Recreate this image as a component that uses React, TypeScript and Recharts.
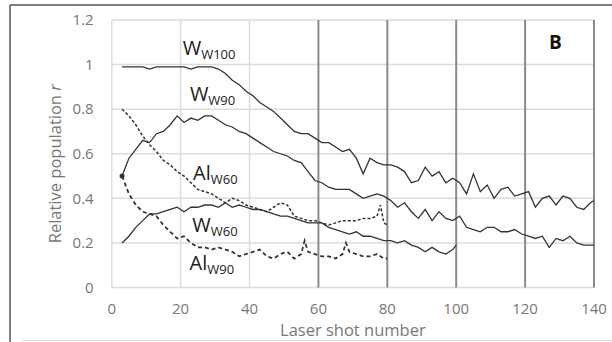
import { CartesianGrid, Line, LineChart, ReferenceDot, ReferenceLine, XAxis, YAxis } from "recharts";

// laser shot numbers (x) and relative population r (y)
const shotsLong = [3, 5, 7, 9, 11, 13, 15, 17, 19, 21, 23, 25, 27, 29, 31, 33, 35, 37, 39, 41, 43, 45, 47, 49, 51, 53, 55, 57, 59, 61, 63, 65, 67, 69, 71, 73, 75, 77, 79, 81, 83, 85, 87, 89, 91, 93, 95, 97, 99, 101, 103, 105, 107, 109, 111, 113, 115, 117, 119, 121, 123, 125, 127, 129, 131, 133, 135, 137, 139, 140];
const wW100 = [0.99, 0.99, 0.99, 0.99, 0.98, 0.99, 0.99, 0.99, 0.99, 0.99, 0.98, 0.99, 0.99, 0.99, 0.98, 0.96, 0.93, 0.91, 0.88, 0.86, 0.83, 0.81, 0.79, 0.76, 0.73, 0.7, 0.69, 0.69, 0.67, 0.65, 0.65, 0.63, 0.61, 0.62, 0.58, 0.51, 0.58, 0.56, 0.55, 0.55, 0.54, 0.52, 0.47, 0.48, 0.54, 0.5, 0.52, 0.47, 0.49, 0.47, 0.42, 0.51, 0.43, 0.46, 0.4, 0.44, 0.45, 0.41, 0.42, 0.43, 0.36, 0.4, 0.41, 0.37, 0.41, 0.4, 0.36, 0.35, 0.38, 0.39];
const wW90 = [0.5, 0.58, 0.62, 0.66, 0.65, 0.69, 0.7, 0.73, 0.77, 0.74, 0.76, 0.75, 0.77, 0.77, 0.75, 0.73, 0.72, 0.7, 0.69, 0.67, 0.65, 0.63, 0.61, 0.6, 0.59, 0.57, 0.56, 0.52, 0.48, 0.47, 0.45, 0.44, 0.44, 0.44, 0.42, 0.4, 0.41, 0.42, 0.41, 0.39, 0.36, 0.38, 0.34, 0.31, 0.35, 0.3, 0.34, 0.31, 0.3, 0.32, 0.27, 0.26, 0.25, 0.27, 0.27, 0.25, 0.25, 0.26, 0.24, 0.23, 0.22, 0.23, 0.18, 0.22, 0.21, 0.23, 0.2, 0.19, 0.19, 0.19];

const shotsW60 = [3, 5, 7, 9, 11, 13, 15, 17, 19, 21, 23, 25, 27, 29, 31, 33, 35, 37, 39, 41, 43, 45, 47, 49, 51, 53, 55, 57, 59, 61, 63, 65, 67, 69, 71, 73, 75, 77, 79, 81, 83, 85, 87, 89, 91, 93, 95, 97, 99, 100];
const wW60 = [0.2, 0.23, 0.27, 0.3, 0.33, 0.33, 0.34, 0.35, 0.36, 0.34, 0.36, 0.36, 0.37, 0.37, 0.36, 0.38, 0.36, 0.37, 0.36, 0.35, 0.35, 0.34, 0.33, 0.32, 0.32, 0.31, 0.3, 0.29, 0.29, 0.29, 0.27, 0.26, 0.25, 0.24, 0.25, 0.23, 0.23, 0.22, 0.21, 0.21, 0.2, 0.21, 0.19, 0.18, 0.16, 0.18, 0.16, 0.15, 0.17, 0.19];

const shotsAlW60 = [3, 5, 7, 9, 11, 13, 15, 17, 19, 21, 23, 25, 27, 29, 31, 33, 35, 37, 39, 41, 43, 45, 47, 49, 51, 53, 55, 57, 59, 61, 63, 65, 67, 69, 71, 73, 75, 77, 78, 79, 80];
const alW60 = [0.8, 0.77, 0.73, 0.68, 0.64, 0.61, 0.57, 0.55, 0.52, 0.5, 0.47, 0.44, 0.43, 0.42, 0.4, 0.38, 0.4, 0.39, 0.37, 0.36, 0.35, 0.34, 0.36, 0.38, 0.37, 0.32, 0.31, 0.3, 0.3, 0.29, 0.28, 0.29, 0.3, 0.3, 0.3, 0.31, 0.31, 0.32, 0.37, 0.29, 0.28];

const shotsAlW90 = [3, 5, 7, 9, 11, 13, 15, 17, 19, 21, 23, 25, 27, 29, 31, 33, 35, 37, 39, 41, 43, 45, 47, 49, 51, 53, 55, 56, 57, 59, 61, 63, 65, 67, 68, 69, 71, 73, 75, 77, 79, 80];
const alW90 = [0.5, 0.42, 0.37, 0.34, 0.33, 0.32, 0.28, 0.25, 0.22, 0.23, 0.2, 0.18, 0.18, 0.17, 0.18, 0.17, 0.16, 0.14, 0.15, 0.16, 0.17, 0.14, 0.13, 0.15, 0.16, 0.13, 0.15, 0.21, 0.16, 0.15, 0.14, 0.14, 0.13, 0.15, 0.2, 0.16, 0.15, 0.14, 0.14, 0.15, 0.13, 0.13];

const xTicks = [0, 20, 40, 60, 80, 100, 120, 140];
const yTicks = [0, 0.2, 0.4, 0.6, 0.8, 1, 1.2];
const darkGridX = [60, 80, 100, 120, 140];

// curve labels: main symbol, subscript, anchor in data units
const curveLabels = [
  { main: "W", sub: "W100", x: 20.6, y: 1.045 },
  { main: "W", sub: "W90", x: 22.7, y: 0.835 },
  { main: "Al", sub: "W60", x: 23.6, y: 0.483 },
  { main: "W", sub: "W60", x: 23.4, y: 0.25 },
  { main: "Al", sub: "W90", x: 22.6, y: 0.079 },
];

const toRows = (xs: number[], ys: number[]) => xs.map((x, i) => ({ x, y: ys[i] }));

const FONT = "'Open Sans', sans-serif";
const INK = "#333";

const YTitle = ({ viewBox }: any) => {
  const cx = 54;
  const cy = viewBox.y + viewBox.height / 2 + 10;
  return (
    <text x={cx} y={cy} transform={`rotate(-90 ${cx} ${cy})`} textAnchor="middle" dominantBaseline="central" fill="#777" fontSize={16.5} fontFamily={FONT}>
      Relative population <tspan fontStyle="italic">r</tspan>
    </text>
  );
};

const CurveLabel = (main: string, sub: string) => (props: any) => (
  <text x={props.cx} y={props.cy} fill="#222" fontFamily={FONT}>
    <tspan fontSize={20}>{main}</tspan>
    <tspan fontSize={13} dy={4}>{sub}</tspan>
  </text>
);

const StartDot = (props: any) =>
  props.index === 0 ? <circle key="start" cx={props.cx} cy={props.cy} r={2.5} fill={INK} /> : null;

export default function App() {
  return (
    <div style={{ position: "absolute", left: 0, top: 0, width: 612, height: 342, background: "#fff" }}>
      <svg width={612} height={342} style={{ position: "absolute", left: 0, top: 0 }}>
        <line x1={10} y1={5} x2={612} y2={5} stroke="#555" strokeWidth={1.5} />
        <line x1={10} y1={5} x2={10} y2={342} stroke="#555" strokeWidth={1.5} />
        <line x1={22} y1={340.5} x2={612} y2={340.5} stroke="#ddd" strokeWidth={1} />
      </svg>
      <LineChart width={612} height={342} margin={{ top: 20, right: 18, bottom: 0, left: 10 }} style={{ position: "absolute", left: 0, top: 0 }}>
        <CartesianGrid stroke="#dcdcdc" strokeWidth={1.5} verticalValues={[0, 20, 40]} horizontalValues={yTicks} />
        {darkGridX.map((v) => (
          <ReferenceLine key={v} x={v} stroke="#8a8a8a" strokeWidth={2} />
        ))}
        <XAxis
          type="number"
          dataKey="x"
          domain={[0, 140]}
          ticks={xTicks}
          axisLine={false}
          tickLine={false}
          tickMargin={10}
          height={54.5}
          tick={{ fill: "#777", fontSize: 15, fontFamily: FONT }}
          label={{ value: "Laser shot number", position: "insideBottom", offset: 6, fill: "#777", fontSize: 16.5, fontFamily: FONT }}
        />
        <YAxis
          type="number"
          dataKey="y"
          domain={[0, 1.2]}
          ticks={yTicks}
          axisLine={false}
          tickLine={false}
          tickMargin={12}
          width={101.7}
          tick={{ fill: "#777", fontSize: 15, fontFamily: FONT }}
          label={<YTitle />}
        />
        <Line data={toRows(shotsLong, wW100)} dataKey="y" stroke={INK} strokeWidth={1.3} dot={false} isAnimationActive={false} />
        <Line data={toRows(shotsLong, wW90)} dataKey="y" stroke={INK} strokeWidth={1.3} dot={false} isAnimationActive={false} />
        <Line data={toRows(shotsW60, wW60)} dataKey="y" stroke={INK} strokeWidth={1.3} dot={false} isAnimationActive={false} />
        <Line data={toRows(shotsAlW60, alW60)} dataKey="y" stroke={INK} strokeWidth={1.5} strokeDasharray="3 2" dot={false} isAnimationActive={false} />
        <Line data={toRows(shotsAlW90, alW90)} dataKey="y" stroke={INK} strokeWidth={1.8} strokeDasharray="4 3" dot={StartDot} isAnimationActive={false} />
        {curveLabels.map((l) => (
          <ReferenceDot key={l.main + l.sub} x={l.x} y={l.y} r={0} shape={CurveLabel(l.main, l.sub)} />
        ))}
      </LineChart>
      <div style={{ position: "absolute", left: 549, top: 29, fontFamily: FONT, fontWeight: 700, fontSize: 19, color: "#111" }}>B</div>
    </div>
  );
}
